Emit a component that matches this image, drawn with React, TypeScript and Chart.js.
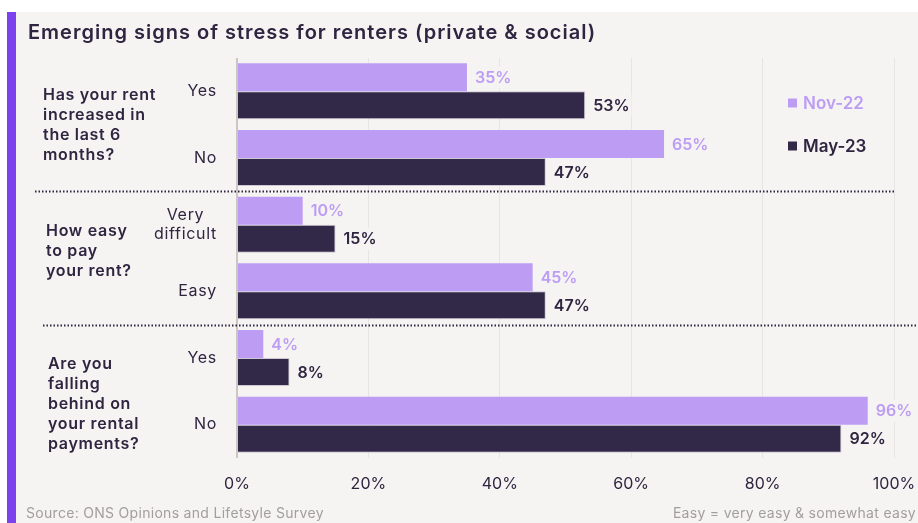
import React, { useEffect, useRef } from "react";
import { Chart, registerables } from "chart.js";

Chart.register(...registerables);

const categoryLabels: string[][] = [["Yes"], ["No"], ["Very", "difficult"], ["Easy"], ["Yes"], ["No"]];
const nov22: number[] = [35, 65, 10, 45, 4, 96];
const may23: number[] = [53, 47, 15, 47, 8, 92];
const seriesNames: string[] = ["Nov-22", "May-23"];
const groupLabels: string[][] = [
  ["Has your rent", "increased in", "the last 6", "months?"],
  ["How easy", "to pay", "your rent?"],
  ["Are you", "falling", "behind on", "your rental", "payments?"],
];
const groupRows: number[][] = [[0, 1], [2, 3], [4, 5]];
const xTicks: number[] = [0, 20, 40, 60, 80, 100];
const titleText = "Emerging signs of stress for renters (private & social)";
const sourceText = "Source: ONS Opinions and Lifetsyle Survey";
const noteText = "Easy = very easy & somewhat easy";

const FONT = "Inter, 'Open Sans', sans-serif";
const DARK = "#2e2540";
const LIGHT = "#bd9df4";
const BARDARK = "#322848";
const BG = "#f5f4f2";

const overlay = {
  id: "overlay",
  afterDraw(chart: any) {
    const ctx = chart.ctx as any;
    const ys = chart.scales.y;
    const area = chart.chartArea;
    ctx.save();

    // title
    ctx.fillStyle = DARK;
    ctx.font = `600 20px ${FONT}`;
    ctx.letterSpacing = "1px";
    ctx.textAlign = "left";
    ctx.textBaseline = "middle";
    ctx.fillText(titleText, 28, 33);

    // category labels
    ctx.font = `16px ${FONT}`;
    ctx.letterSpacing = "0.7px";
    ctx.fillStyle = DARK;
    categoryLabels.forEach((lines, i) => {
      const cy = ys.getPixelForValue(i);
      const widths = lines.map((l) => ctx.measureText(l).width);
      const w = Math.max(...widths);
      const right = area.left - 20;
      const cx = right - w / 2;
      const lh = 19;
      ctx.textAlign = "center";
      lines.forEach((l, k) => {
        ctx.fillText(l, cx, cy + (k - (lines.length - 1) / 2) * lh);
      });
    });

    // group labels
    const gx = [43, 46, 48];
    const gdy = [1, -7, 13];
    ctx.font = `600 16px ${FONT}`;
    ctx.letterSpacing = "0.7px";
    ctx.textAlign = "left";
    groupLabels.forEach((lines, g) => {
      const [a, b] = groupRows[g];
      const cy = (ys.getPixelForValue(a) + ys.getPixelForValue(b)) / 2 + gdy[g];
      lines.forEach((l, k) => {
        ctx.fillText(l, gx[g], cy + (k - (lines.length - 1) / 2) * 20);
      });
    });
    ctx.letterSpacing = "0px";

    // dotted separators
    ctx.strokeStyle = DARK;
    ctx.lineWidth = 2;
    ctx.setLineDash([1.5, 2]);
    const seps = [
      { after: 1, x0: 35, x1: 895 },
      { after: 3, x0: 43, x1: 918 },
    ];
    seps.forEach((s) => {
      const y = Math.round((ys.getPixelForValue(s.after) + ys.getPixelForValue(s.after + 1)) / 2) + 0.5;
      ctx.beginPath();
      ctx.moveTo(s.x0, y);
      ctx.lineTo(s.x1, y);
      ctx.stroke();
    });
    ctx.setLineDash([]);

    // value labels
    ctx.font = `600 16px ${FONT}`;
    ctx.textAlign = "left";
    ctx.textBaseline = "middle";
    chart.data.datasets.forEach((ds: any, di: number) => {
      const meta = chart.getDatasetMeta(di);
      meta.data.forEach((el: any, i: number) => {
        const txt = `${ds.data[i]}%`;
        const x = el.x + 8;
        const w = ctx.measureText(txt).width;
        ctx.fillStyle = BG;
        ctx.fillRect(x - 2, el.y - 11, w + 4, 22);
        ctx.fillStyle = di === 0 ? LIGHT : DARK;
        ctx.fillText(txt, x, el.y + 1);
      });
    });

    // legend
    const leg = [
      { name: seriesNames[0], color: LIGHT, text: LIGHT, y: 103 },
      { name: seriesNames[1], color: BARDARK, text: DARK, y: 146 },
    ];
    ctx.font = `600 17px ${FONT}`;
    leg.forEach((l) => {
      ctx.fillStyle = l.color;
      ctx.fillRect(788, l.y - 4.5, 9, 9);
      ctx.fillStyle = l.text;
      ctx.fillText(l.name, 803, l.y + 1);
    });

    // footer
    ctx.fillStyle = "#a29e9e";
    ctx.font = `14px ${FONT}`;
    ctx.letterSpacing = "0.3px";
    ctx.textAlign = "left";
    ctx.fillText(sourceText, 26, 514);
    ctx.textAlign = "right";
    ctx.fillText(noteText, 916, 514);

    ctx.restore();
  },
};

export default function App() {
  const ref = useRef<HTMLCanvasElement>(null);
  useEffect(() => {
    if (!ref.current) return;
    const chart = new Chart(ref.current, {
      type: "bar",
      data: {
        labels: categoryLabels.map((l) => l.join(" ")),
        datasets: [
          {
            label: seriesNames[0],
            data: nov22,
            backgroundColor: LIGHT,
            borderWidth: 0,
            categoryPercentage: 0.84,
            barPercentage: 1,
          },
          {
            label: seriesNames[1],
            data: may23,
            backgroundColor: BARDARK,
            borderColor: "rgba(200,196,210,0.9)",
            borderWidth: 1,
            categoryPercentage: 0.84,
            barPercentage: 1,
          },
        ],
      },
      options: {
        indexAxis: "y",
        responsive: false,
        animation: false,
        layout: { padding: { left: 237, right: 24, top: 58, bottom: 0 } },
        plugins: { legend: { display: false }, title: { display: false }, tooltip: { enabled: false } },
        scales: {
          y: { display: false },
          x: {
            min: 0,
            max: 100,
            afterFit: (s: any) => {
              s.height = 65;
              s.paddingLeft = 0;
              s.paddingRight = 0;
            },
            afterBuildTicks: (s: any) => {
              s.ticks = xTicks.map((v) => ({ value: v }));
            },
            border: { display: false },
            grid: {
              drawTicks: false,
              color: (c: any) => (c.tick && c.tick.value === 0 ? "#c9c6c3" : "#e7e5e2"),
              lineWidth: (c: any) => (c.tick && c.tick.value === 0 ? 2 : 1),
            },
            ticks: {
              padding: 17,
              color: DARK,
              font: { family: FONT, size: 16 },
              callback: (v: any) => `${v}%`,
            },
          },
        },
      },
      plugins: [overlay],
    });
    return () => chart.destroy();
  }, []);

  return (
    <div style={{ position: "fixed", left: 0, top: 0, width: 918, height: 523, background: "#ffffff" }}>
      <div style={{ position: "absolute", left: 7, top: 12, width: 9, height: 511, background: "#7b42ee" }} />
      <div style={{ position: "absolute", left: 16, top: 12, width: 902, height: 511, background: BG }} />
      <canvas ref={ref} width={918} height={523} style={{ position: "absolute", left: 0, top: 0, width: 918, height: 523 }} />
    </div>
  );
}
